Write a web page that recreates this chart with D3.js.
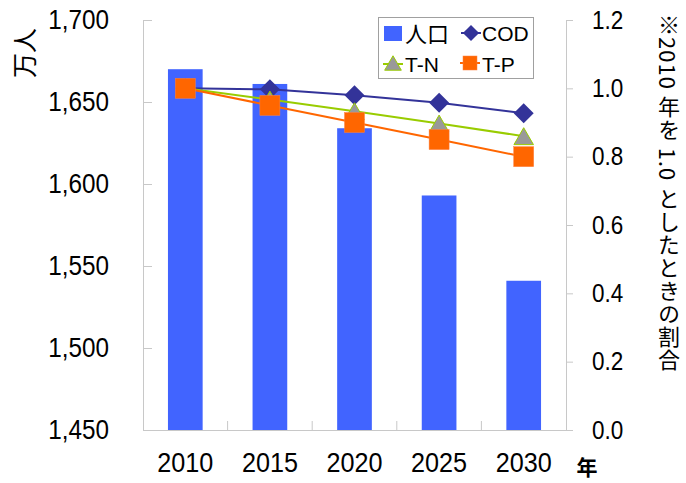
<!DOCTYPE html>
<html><head><meta charset="utf-8">
<script src="https://cdn.jsdelivr.net/npm/d3@7"></script>
<style>
body{margin:0;background:#fff;}
svg{display:block;}
text{font-family:"Liberation Sans",Arial,sans-serif;fill:#000;}
</style></head>
<body><svg id="c" width="686" height="483"></svg>
<script>
const years = ["2010","2015","2020","2025","2030"];
const population = [1670, 1661, 1634, 1593, 1541];
const cod = [1.0, 0.997, 0.98, 0.958, 0.927];
const tn  = [1.0, 0.967, 0.933, 0.897, 0.86];
const tp  = [1.0, 0.95, 0.90, 0.85, 0.80];
const leftTicks = [1450,1500,1550,1600,1650,1700];
const rightTicks = [0,0.2,0.4,0.6,0.8,1.0,1.2];

const svg = d3.select("#c");
const L = 143, R = 566, T = 20, B = 430;
const axisColor = "#c8c8c8";

const x = d3.scaleBand().domain(years).range([L,R]).paddingInner(0.59).paddingOuter(0.295);
const yL = d3.scaleLinear().domain([1450,1700]).range([B,T]);
const yR = d3.scaleLinear().domain([0,1.2]).range([B,T]);
const cx = d => x(d) + x.bandwidth()/2;

function squeeze(g, sx){
  g.selectAll(".tick text").each(function(){
    const t = d3.select(this);
    const tx = +t.attr("x") || 0;
    t.attr("x",0).attr("transform",`translate(${tx},0) scale(${sx},1)`);
  });
}

// bars
svg.append("g").selectAll("rect").data(years).join("rect")
  .attr("x", d=>x(d)).attr("width", x.bandwidth())
  .attr("y", (d,i)=>yL(population[i])).attr("height",(d,i)=>B-yL(population[i]))
  .attr("fill","#4164ff");

// left axis
const gl = svg.append("g").attr("transform",`translate(${L},0)`)
  .call(d3.axisLeft(yL).tickValues(leftTicks).tickSize(-9).tickPadding(34).tickFormat(d3.format(",")));
gl.select(".domain").attr("stroke",axisColor);
gl.selectAll(".tick line").attr("stroke",axisColor);
gl.selectAll(".tick text").style("font-size","27px").style("font-family","Liberation Sans, Arial, sans-serif");
squeeze(gl, 0.9);

// right axis
const gr = svg.append("g").attr("transform",`translate(${R},0)`)
  .call(d3.axisRight(yR).tickValues(rightTicks).tickSize(7).tickPadding(19).tickFormat(d3.format(".1f")));
gr.select(".domain").attr("stroke",axisColor);
gr.selectAll(".tick line").attr("stroke",axisColor);
gr.selectAll(".tick text").style("font-size","25px").style("font-family","Liberation Sans, Arial, sans-serif");
squeeze(gr, 0.9);

// bottom axis
const gb = svg.append("g").attr("transform",`translate(0,${B})`)
  .call(d3.axisBottom(x).tickSize(0).tickPadding(22));
gb.select(".domain").attr("stroke",axisColor);
gb.selectAll(".tick text").style("font-size","28px").style("font-family","Liberation Sans, Arial, sans-serif");
squeeze(gb, 0.9);
// boundary ticks
svg.append("g").selectAll("line").data(years.slice(1)).join("line")
  .attr("x1", d=>cx(d)-x.step()/2).attr("x2", d=>cx(d)-x.step()/2)
  .attr("y1",B).attr("y2",B-9).attr("stroke",axisColor);

// lines
const line = d3.line().x((v,i)=>cx(years[i])).y(v=>yR(v));
const series = [
  {name:"COD", data:cod, color:"#333399"},
  {name:"T-N", data:tn, color:"#99cc00"},
  {name:"T-P", data:tp, color:"#ff6600"}
];
series.forEach(s=>{
  svg.append("path").datum(s.data).attr("d",line).attr("fill","none")
    .attr("stroke",s.color).attr("stroke-width",2);
});
// markers
function drawDiamond(g, px, py, sz){
  g.append("path").attr("d", d3.symbol().type(d3.symbolSquare).size(sz||200)())
    .attr("transform",`translate(${px},${py}) rotate(45)`).attr("fill","#333399");
}
function drawTri(g, px, py, sz){
  const s = sz||165;
  const side = Math.sqrt(s*4/Math.sqrt(3));
  const h = side*Math.sqrt(3)/2;
  g.append("path").attr("d", d3.symbol().type(d3.symbolTriangle).size(s)())
    .attr("transform",`translate(${px},${py + h/6})`).attr("fill","#999999").attr("stroke","#99cc00").attr("stroke-width",1);
}
function drawSq(g, px, py, w){
  const ww = w||20;
  g.append("rect").attr("x",px-ww/2).attr("y",py-ww/2).attr("width",ww).attr("height",ww)
    .attr("fill","#ff6600").attr("stroke","#ff8040").attr("stroke-width",0.5);
}
const mg = svg.append("g");
years.forEach((yr,i)=>{ drawDiamond(mg, cx(yr), yR(cod[i])); });
years.forEach((yr,i)=>{ drawTri(mg, cx(yr), yR(tn[i])); });
years.forEach((yr,i)=>{ drawSq(mg, cx(yr), yR(tp[i])); });

// legend
const lg = svg.append("g");
lg.append("rect").attr("x",378.5).attr("y",17.5).attr("width",155).attr("height",61)
  .attr("fill","#fff").attr("stroke","#a0a0a0").attr("stroke-width",1);
lg.append("rect").attr("x",384).attr("y",26).attr("width",18).attr("height",15).attr("fill","#4164ff");
lg.append("text").attr("x",405).attr("y",42).text("人口").style("font-size","22px").style("font-family","Noto Sans CJK JP, sans-serif");
lg.append("line").attr("x1",461).attr("x2",481).attr("y1",33).attr("y2",33).attr("stroke","#333399").attr("stroke-width",2);
drawDiamond(lg, 471, 33, 130);
lg.append("text").attr("x",482).attr("y",41).text("COD").style("font-size","21px");
lg.append("line").attr("x1",383).attr("x2",403).attr("y1",64).attr("y2",64).attr("stroke","#99cc00").attr("stroke-width",2);
drawTri(lg, 393, 63, 120);
lg.append("text").attr("x",405).attr("y",72).text("T-N").style("font-size","21px");
lg.append("line").attr("x1",460).attr("x2",480).attr("y1",63).attr("y2",63).attr("stroke","#ff6600").attr("stroke-width",2);
drawSq(lg, 470, 63, 14);
lg.append("text").attr("x",482).attr("y",72).text("T-P").style("font-size","21px");

// axis titles
svg.append("text").attr("transform","translate(34,53) rotate(-90)").attr("text-anchor","middle")
  .text("万人").style("font-size","25px").style("font-family","Noto Sans CJK JP, sans-serif");
svg.append("text").attr("x",587).attr("y",475).attr("text-anchor","middle")
  .text("年").style("font-size","21px").style("font-weight","bold").style("font-family","Noto Sans CJK JP, sans-serif");
svg.append("text").attr("x",669).attr("y",14)
  .style("writing-mode","vertical-rl").style("font-size","22px").style("letter-spacing","1px")
  .style("font-family","Noto Sans CJK JP, sans-serif")
  .text("※2010 年を 1.0 としたときの割合");
</script></body></html>
